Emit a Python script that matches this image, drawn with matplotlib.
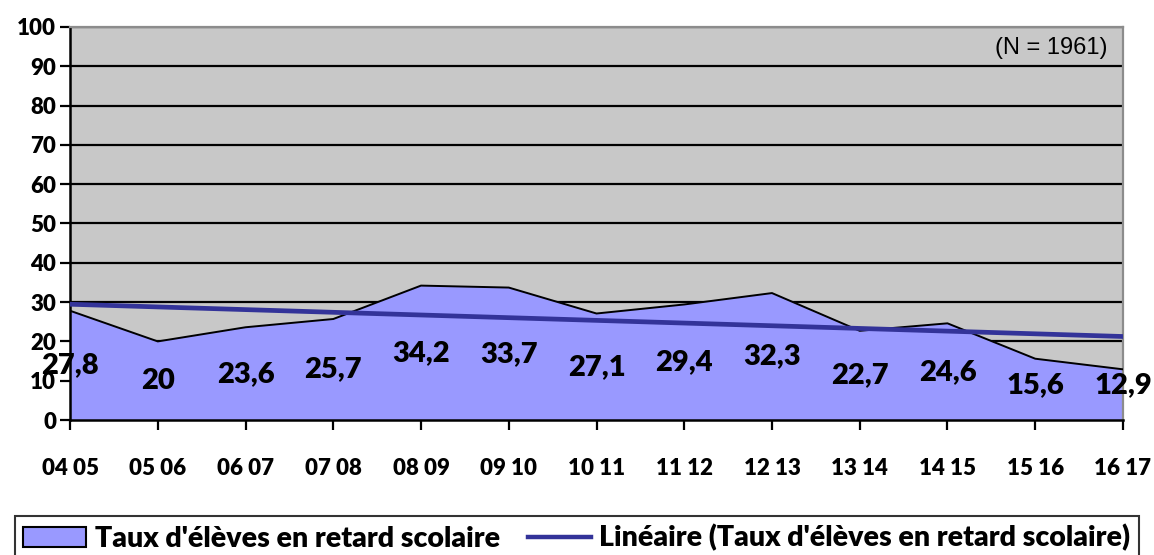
import numpy as np
import matplotlib
matplotlib.use('Agg')
import matplotlib.pyplot as plt
from matplotlib.patches import Patch
from matplotlib.lines import Line2D

# school years and late-pupil rate (%)
years = ['04 05', '05 06', '06 07', '07 08', '08 09', '09 10', '10 11',
         '11 12', '12 13', '13 14', '14 15', '15 16', '16 17']
rates = [27.8, 20, 23.6, 25.7, 34.2, 33.7, 27.1, 29.4, 32.3, 22.7, 24.6, 15.6, 12.9]
rate_labels = ['27,8', '20', '23,6', '25,7', '34,2', '33,7', '27,1',
               '29,4', '32,3', '22,7', '24,6', '15,6', '12,9']
series_name = "Taux d'élèves en retard scolaire"
trend_name = "Linéaire (Taux d'élèves en retard scolaire)"

FONT = 'Lato'
x = np.arange(len(years))
y = np.array(rates)

fig = plt.figure(figsize=(11.54, 5.55), dpi=100)
ax = fig.add_axes([0.0607, 0.2432, 0.9124, 0.7082])
ax.set_facecolor('#C8C8C8')

ax.set_xlim(0, len(years) - 1)
ax.set_ylim(0, 100)
ax.set_yticks(np.arange(0, 101, 10))
ax.yaxis.grid(True, color='black', lw=1.6)
ax.set_axisbelow(True)

ax.fill_between(x, 0, y, color='#9999FF', zorder=2)
ax.plot(x, y, color='black', lw=1.4, zorder=3)

# linear trend
k, b = np.polyfit(x, y, 1)
ax.plot(x, k * x + b, color='#333399', lw=3.4, zorder=4)

for xi, v, lab in zip(x, rates, rate_labels):
    ax.text(xi, max(v / 2, 9), lab, ha='center', va='center', fontsize=21,
            fontweight='heavy', family=FONT, zorder=5, clip_on=False)

ax.text(0.985, 0.975, '(N = 1961)', transform=ax.transAxes, ha='right', va='top',
        fontsize=17, family='Liberation Sans', zorder=6)

ax.set_xticks(x)
ax.set_xticklabels(years)
ax.tick_params(axis='x', direction='out', length=7, width=1.6, pad=20)
ax.tick_params(axis='y', direction='out', length=7, width=1.6, pad=3)
for lbl in ax.get_xticklabels() + ax.get_yticklabels():
    lbl.set_fontfamily(FONT)
    lbl.set_fontweight('heavy')
    lbl.set_fontsize(16)

for s in ['left', 'bottom']:
    ax.spines[s].set_color('black')
    ax.spines[s].set_linewidth(1.8)
for s in ['top', 'right']:
    ax.spines[s].set_color('#8C8C8C')
    ax.spines[s].set_linewidth(1.6)

handles = [Patch(facecolor='#9999FF', edgecolor='black', lw=1.5),
           Line2D([0], [0], color='#333399', lw=3.2)]
leg = fig.legend(handles, [series_name, trend_name], loc='lower center',
                 bbox_to_anchor=(0.5, -0.035), ncol=2, frameon=True, fancybox=False,
                 edgecolor='black', borderpad=0.3, columnspacing=1.0,
                 handlelength=2.2, handletextpad=0.3,
                 prop={'family': FONT, 'weight': 'heavy', 'size': 20.5})
leg.get_frame().set_linewidth(1.5)

fig.savefig('out.png', dpi=100)
